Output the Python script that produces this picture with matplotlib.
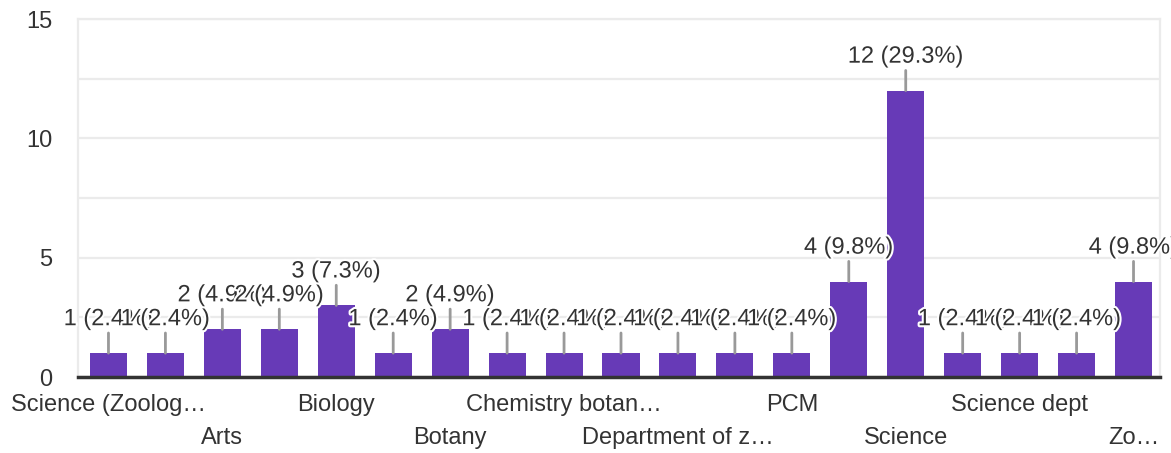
import matplotlib.pyplot as plt
import matplotlib.patheffects as pe
from matplotlib.ticker import MultipleLocator

# only every other category name is printed in the chart; hidden ones left blank
categorias = ["Science (Zoolog…", "", "Arts", "", "Biology", "", "Botany", "",
              "Chemistry botan…", "", "Department of z…", "", "PCM", "",
              "Science", "", "Science dept", "", "Zo…"]
valores = [1, 1, 2, 2, 3, 1, 2, 1, 1, 1, 1, 1, 1, 4, 12, 1, 1, 1, 4]
yticks = [0, 5, 10, 15]

total = sum(valores)
color_barra = "#673ab7"
color_texto = "#333333"
tam = 17

plt.rcParams['font.family'] = ['Liberation Sans', 'DejaVu Sans']

fig = plt.figure(figsize=(11.71, 4.53), dpi=100)
ax = fig.add_axes([78 / 1171, 1 - 377 / 453, (1160 - 78) / 1171, (377 - 19) / 453])

x = list(range(len(valores)))
ax.bar(x, valores, width=0.65, color=color_barra, zorder=2)

ax.set_xlim(-0.535, len(valores) - 0.535)
ax.set_ylim(0, 15)
ax.set_yticks(yticks)
ax.yaxis.set_minor_locator(MultipleLocator(2.5))
ax.grid(axis='y', which='both', color='#ebebeb', linewidth=1.6, zorder=0)
ax.tick_params(axis='y', length=0, pad=18.5, labelsize=tam, labelcolor=color_texto)
ax.tick_params(axis='y', which='minor', length=0)
ax.set_xticks([])

for lado in ['left', 'right', 'top']:
    ax.spines[lado].set_color('#ebebeb')
    ax.spines[lado].set_linewidth(1.6)
ax.spines['bottom'].set_color('#333333')
ax.spines['bottom'].set_linewidth(2.5)
ax.spines['bottom'].set_zorder(3)

# etiquetas de valor con linea guia
for i, v in enumerate(valores):
    ax.annotate(f"{v} ({v / total * 100:.1f}%)", xy=(i, v), xytext=(0, 16.5),
                textcoords='offset points', ha='center', va='bottom',
                fontsize=tam, color=color_texto, zorder=4,
                arrowprops=dict(arrowstyle='-', color='#999999', lw=2,
                                shrinkA=0, shrinkB=0),
                path_effects=[pe.withStroke(linewidth=3, foreground='white')])

# nombres de categoria en dos filas alternadas
for i, nombre in enumerate(categorias):
    if not nombre:
        continue
    fila = (i // 2) % 2
    ax.annotate(nombre, xy=(i, 0), xytext=(0, -20.5 - fila * 23.5),
                textcoords='offset points', ha='center', va='center',
                fontsize=tam, color=color_texto, annotation_clip=False)

fig.savefig("out.png", dpi=100)
